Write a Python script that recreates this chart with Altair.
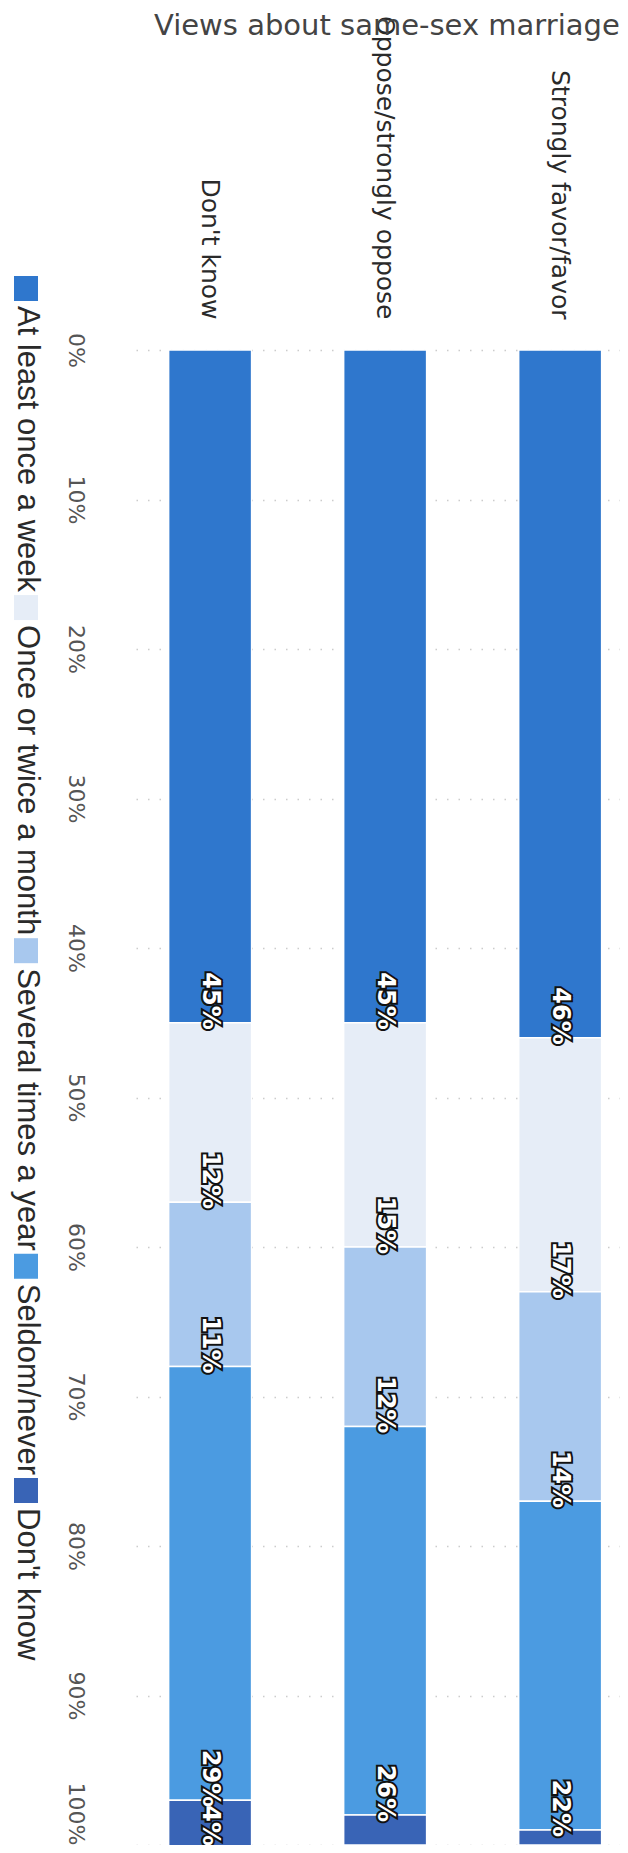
import altair as alt
import pandas as pd

# ---------------- data ----------------
views = ["Strongly favor/favor", "Oppose/strongly oppose", "Don't know"]
frequencies = ["At least once a week", "Once or twice a month",
               "Several times a year", "Seldom/never", "Don't know"]
favor = [46, 17, 14, 22, 1]
oppose = [45, 15, 12, 26, 2]
dont_know = [45, 12, 11, 29, 4]
colors = ["#2f77cd", "#e6edf7", "#a8c8ee", "#4b9be1", "#3964b6"]
view_order = ["Don't know", "Oppose/strongly oppose", "Strongly favor/favor"]
tick_values = [0, 10, 20, 30, 40, 50, 60, 70, 80, 90, 100]
title_text = "Views about same-sex marriage"

rows = []
for view, vals in zip(views, [favor, oppose, dont_know]):
    for i, (f, v) in enumerate(zip(frequencies, vals)):
        rows.append({"view": view, "freq": f, "order": i, "value": v})
df = pd.DataFrame(rows)

# ---------------- rotated legend layout (computed from font metrics) ----------------
LEG_FONT = 31
SW = 25          # swatch length
G1, G2 = 5, 3    # gaps after swatch / after label
ADV = {"A": 1366, "t": 569, " ": 569, "l": 455, "e": 1139, "a": 1139, "s": 1024,
       "o": 1139, "n": 1139, "c": 1024, "w": 1479, "k": 1024, "O": 1593, "r": 682,
       "i": 455, "m": 1706, "h": 1139, "S": 1366, "v": 1024, "y": 1024, "d": 1139,
       "/": 569, "D": 1479, "'": 391}


def text_len(s):
    return sum(ADV.get(ch, 1139) for ch in s) / 2048 * LEG_FONT


leg_rows = []
pos = -74
for f in frequencies:
    leg_rows.append({"freq": f, "s0": pos, "s1": pos + SW, "t0": pos + SW + G1})
    pos = pos + SW + G1 + text_len(f) + G2
leg_df = pd.DataFrame(leg_rows)

color_scale = alt.Scale(domain=frequencies, range=colors)

x_enc = alt.X(
    "view:N", sort=view_order,
    scale=alt.Scale(paddingInner=0.526, paddingOuter=0.1457, align=0.64),
    axis=alt.Axis(orient="top", title=None, labelAngle=90, labelAlign="right",
                  labelBaseline="middle", labelFont="DejaVu Sans", labelFontSize=25,
                  labelColor="#2a2a2a", labelPadding=31, labelLimit=500,
                  ticks=False, domain=False),
)
y_scale = alt.Scale(domain=[0, 100], reverse=True, nice=False)

base = alt.Chart(df).transform_stack(
    stack="value", as_=["v0", "v1"], groupby=["view"],
    sort=[alt.SortField("order", order="ascending")],
).transform_calculate(label="datum.value + '%'", lab_y="min(datum.v1, 99.6)")

bars = base.mark_bar(stroke="white", strokeWidth=1.5).encode(
    x=x_enc,
    y=alt.Y("v0:Q", scale=y_scale,
            axis=alt.Axis(values=tick_values, labelExpr="datum.value + '%'", title=None,
                          labelAngle=90,
                          labelAlign={"condition": {"test": "datum.value >= 100", "value": "right"},
                                      "value": "center"},
                          labelBaseline="middle", labelFont="DejaVu Sans", labelFontSize=22,
                          labelColor="#555555", labelPadding=61, ticks=False, domain=False,
                          grid=True, gridDash=[1.5, 10], gridColor="#999999", gridOpacity=0.5,
                          gridWidth=1.5)),
    y2="v1:Q",
    color=alt.Color("freq:N", scale=color_scale, legend=None),
    order=alt.Order("order:Q"),
)

lab_base = base.transform_filter("datum.value >= 3")
lab_outline = lab_base.mark_text(
    angle=90, align="right", baseline="middle", font="DejaVu Sans", fontWeight="bold",
    fontSize=24, fill="#111111", stroke="#111111", strokeWidth=4, dx=7,
).encode(x=alt.X("view:N", sort=view_order), y=alt.Y("lab_y:Q", scale=y_scale), text="label:N")
lab_fill = lab_base.mark_text(
    angle=90, align="right", baseline="middle", font="DejaVu Sans", fontWeight="bold",
    fontSize=24, fill="white", dx=7,
).encode(x=alt.X("view:N", sort=view_order), y=alt.Y("lab_y:Q", scale=y_scale), text="label:N")

leg_base = alt.Chart(leg_df)
leg_sw = leg_base.mark_rect().encode(
    x=alt.value(-122), x2=alt.value(-98),
    y=alt.Y("s0:Q", scale=None, axis=None), y2="s1:Q",
    color=alt.Color("freq:N", scale=color_scale, legend=None),
)
leg_txt = leg_base.mark_text(
    angle=90, align="left", baseline="middle", font="Liberation Sans",
    fontSize=LEG_FONT, color="#2a2a2a",
).encode(
    x=alt.value(-109),
    y=alt.Y("t0:Q", scale=None, axis=None),
    text="freq:N",
)

chart = alt.layer(bars, lab_outline, lab_fill, leg_sw, leg_txt).properties(
    width=484, height=1495,
    padding={"left": 128, "top": 342, "right": 0, "bottom": 0},
    autosize=alt.AutoSizeParams(type="none"),
    title=alt.TitleParams(title_text, font="DejaVu Sans", fontSize=29, fontWeight="normal",
                          color="#444444", anchor="start", frame="group", dx=18, dy=30),
).configure_view(stroke=None)

chart.save("out.html", embed_options={"renderer": "svg", "actions": False})
